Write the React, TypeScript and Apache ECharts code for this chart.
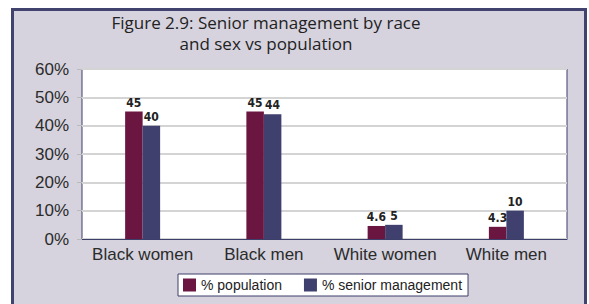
import React, { useEffect, useRef } from "react";
import * as echarts from "echarts";

const categories = ["Black women", "Black men", "White women", "White men"];
const populationValues = [45, 45, 4.6, 4.3];
const seniorValues = [40, 44, 5, 10];
const seriesNames = ["% population", "% senior management"];
const titleLines = ["Figure 2.9: Senior management by race", "and sex vs population"];

export default function App() {
  const ref = useRef<HTMLDivElement>(null);
  useEffect(() => {
    if (!ref.current) return;
    const chart = echarts.init(ref.current, undefined, { renderer: "svg" });
    const labelStyle = {
      show: true,
      position: "top" as const,
      distance: 3,
      fontFamily: "'Liberation Sans Narrow', 'DejaVu Sans Condensed', Arial",
      fontWeight: "bold" as const,
      fontSize: 12,
      color: "#222",
    };
    const titleStyle = {
      fontFamily: "'Open Sans', 'Noto Sans', sans-serif",
      fontSize: 17,
      textAlign: "center" as const,
      textVerticalAlign: "middle" as const,
      fill: "#222",
    };
    chart.setOption({
      animation: false,
      backgroundColor: "#ffffff",
      graphic: [
        {
          type: "rect",
          z: -10,
          silent: true,
          shape: { x: 12.5, y: 9.5, width: 573, height: 310 },
          style: { fill: "#d6d3de", stroke: "#42426f", lineWidth: 3 },
        },
        {
          type: "text",
          x: 266,
          y: 22,
          style: { ...titleStyle, text: titleLines[0] },
        },
        {
          type: "text",
          x: 266,
          y: 43,
          style: { ...titleStyle, text: titleLines[1] },
        },
      ],
      grid: {
        left: 82,
        top: 69,
        width: 485,
        height: 170,
        show: true,
        backgroundColor: "#ffffff",
        borderColor: "#3d3f6b",
        borderWidth: 1,
      },
      legend: {
        data: seriesNames,
        left: 178,
        top: 274,
        backgroundColor: "#ffffff",
        borderColor: "#3d3f6b",
        borderWidth: 1,
        borderRadius: 0,
        padding: [4, 6, 4, 5],
        itemWidth: 13,
        itemHeight: 13,
        itemGap: 22,
        icon: "rect",
        textStyle: {
          fontFamily: "'Liberation Sans', Arial, sans-serif",
          fontSize: 14,
          color: "#222",
        },
      },
      xAxis: {
        type: "category",
        data: categories,
        axisLine: { show: true, lineStyle: { color: "#3d3f6b", width: 1 } },
        axisTick: { show: false },
        axisLabel: {
          interval: 0,
          margin: 7,
          fontFamily: "'Liberation Sans', Arial, sans-serif",
          fontSize: 17,
          color: "#2b2b2b",
        },
      },
      yAxis: {
        type: "value",
        min: 0,
        max: 60,
        interval: 10,
        axisLine: { show: false },
        axisTick: { show: true, length: 5, lineStyle: { color: "#bbbbbb" } },
        splitLine: { show: true, lineStyle: { color: "#d4d4d4", width: 2 } },
        axisLabel: {
          formatter: "{value}%",
          margin: 13,
          fontFamily: "'Liberation Sans', Arial, sans-serif",
          fontSize: 17,
          color: "#2b2b2b",
        },
      },
      series: [
        {
          name: seriesNames[0],
          type: "bar",
          data: populationValues,
          barWidth: 17.5,
          barGap: "0%",
          itemStyle: { color: "#6b1640" },
          label: labelStyle,
        },
        {
          name: seriesNames[1],
          type: "bar",
          data: seniorValues,
          barWidth: 17.5,
          barGap: "0%",
          itemStyle: { color: "#3f406d" },
          label: labelStyle,
        },
      ],
    });
    return () => chart.dispose();
  }, []);
  return (
    <div
      ref={ref}
      style={{ position: "fixed", left: 0, top: 0, width: 589, height: 304 }}
    />
  );
}
